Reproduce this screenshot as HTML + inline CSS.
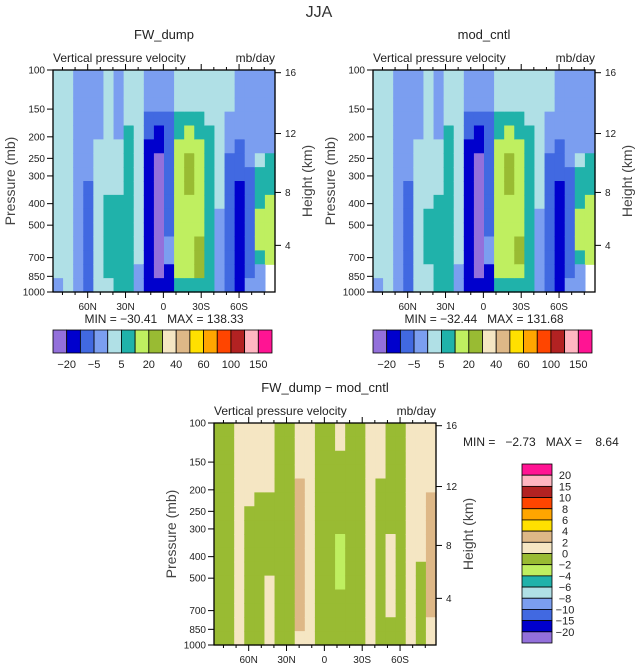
<!DOCTYPE html>
<html><head><meta charset="utf-8"><style>
html,body{margin:0;padding:0;background:#fff}
svg{display:block;font-family:"Liberation Sans",sans-serif}
</style></head><body>
<svg id="chart" width="638" height="664" viewBox="0 0 638 664" xmlns="http://www.w3.org/2000/svg">
<text x="319" y="17" text-anchor="middle" font-size="16" fill="#333">JJA</text>
</svg>
<script>
// ---- data (values in mb/day), columns from ~88N to ~88S (8 deg), rows top(100mb) to bottom(1000mb) ----
const topLevels = [-20,-10,-5,0,5,10,20,30,40,50,60,80,100,120,150];
const topLevelLabels = ["\u221220","","\u22125","","5","","20","","40","","60","","100","","150"];
const diffLevels = [-20,-15,-10,-8,-6,-4,-2,0,2,4,6,8,10,15,20];
const diffLevelLabels = ["\u221220","\u221215","\u221210","\u22128","\u22126","\u22124","\u22122","0","2","4","6","8","10","15","20"];
const latTicks = [60,30,0,-30,-60];
const latTickLabels = ["60N","30N","0","30S","60S"];
const pTicks = [100,150,200,250,300,400,500,700,850,1000];
const kmTicks = [16,12,8,4];
const fwDump = [
[2,2,2,2,2,2,2,2,2,2,2,2,2,2,2,-2],
[2,2,2,2,2,2,2,2,2,2,2,2,2,2,2,2],
[-2,-2,-2,-2,-2,-2,-2,-2,-2,-2,-2,-2,-2,-2,-2,-2],
[-2,-2,-2,-2,-2,-2,-2,-2,-7,-7,-7,-7,-7,-7,-7,-7],
[-2,-2,-2,-2,-2,2,2,2,2,2,2,2,2,2,2,2],
[2,2,2,2,2,2,2,2,2,7,7,7,7,7,7,2],
[-2,-2,-2,-2,-2,2,2,2,2,7,7,7,7,7,7,7],
[2,2,2,2,7,7,7,7,7,7,7,7,7,7,7,7],
[2,2,2,2,2,2,2,2,2,2,2,2,2,2,-2,-2],
[-2,-2,-2,-7,-7,-15,-15,-15,-15,-15,-15,-15,-15,-15,-15,-15],
[-2,-2,-2,-7,-15,-15,-25,-25,-25,-25,-25,-25,-25,-25,-25,-15],
[-2,-2,-2,-7,-7,-7,-7,-7,-7,-7,-7,-7,-2,-2,-15,-15],
[2,2,2,7,7,15,15,15,15,15,15,15,15,15,15,7],
[2,2,2,7,15,15,25,25,25,15,15,15,15,15,15,7],
[2,2,2,7,7,15,15,15,15,15,15,15,25,25,25,7],
[2,2,2,2,7,7,7,7,7,7,7,7,7,7,7,7],
[2,2,2,2,2,2,2,2,2,2,-2,-2,-2,-2,-2,-2],
[2,2,2,-2,-2,-2,-7,-7,-7,-7,-7,-7,-7,-7,-7,-7],
[-2,-2,-2,-2,-2,-7,-7,-7,-15,-15,-15,-15,-15,-15,-15,-15],
[-2,-2,-2,-2,-2,-2,-2,-7,-7,-7,-7,-7,-7,-7,-7,-2],
[-2,-2,-2,-2,-2,-2,2,7,7,7,15,15,15,7,-2,-2],
[-2,-2,-2,-2,-2,-2,7,7,7,15,15,15,15,15,null,null]
];
const modCntl = [
[2,2,2,2,2,2,2,2,2,2,2,2,2,2,2,-2],
[2,2,2,2,2,2,2,2,2,2,2,2,2,2,2,2],
[-2,-2,-2,-2,-2,-2,-2,-2,-2,-2,-2,-2,-2,-2,-2,-2],
[-2,-2,-2,-2,-2,-2,-2,-2,-7,-7,-7,-7,-7,-7,-7,-7],
[-2,-2,-2,-2,-2,2,2,2,2,2,2,2,2,2,2,2],
[2,2,2,2,2,2,2,2,2,2,7,7,7,7,2,2],
[-2,-2,-2,-2,-2,2,2,2,2,7,7,7,7,7,7,7],
[2,2,2,2,7,7,7,7,7,7,7,7,7,7,7,7],
[2,2,2,2,2,2,2,2,2,2,2,2,2,2,-2,-2],
[-2,-2,-2,-7,-7,-15,-15,-15,-15,-15,-15,-15,-15,-15,-15,-15],
[-2,-2,-2,-7,-15,-15,-25,-25,-25,-25,-25,-25,-25,-25,-25,-15],
[-2,-2,-2,-7,-7,-7,-7,-7,-7,-7,-7,-7,-2,-2,-15,-15],
[2,2,2,7,7,15,15,15,15,15,15,15,15,15,15,7],
[2,2,2,7,15,15,25,25,25,15,15,15,15,15,15,7],
[2,2,2,7,7,15,15,15,15,15,15,15,25,25,15,7],
[2,2,2,2,7,7,7,7,7,7,7,7,7,7,7,7],
[2,2,2,2,2,2,2,2,2,2,-2,-2,-2,-2,-2,-2],
[2,2,2,-2,-2,-2,-7,-7,-7,-7,-7,-7,-7,-7,-7,-7],
[-2,-2,-2,-2,-2,-7,-7,-7,-15,-15,-15,-15,-15,-15,-15,-15],
[-2,-2,-2,-2,-2,-2,-2,-7,-7,-7,-7,-7,-7,-7,-7,-2],
[-2,-2,-2,-2,-2,-2,2,7,7,7,15,15,15,7,-2,-2],
[-2,-2,-2,-2,-2,-2,7,7,7,15,15,15,15,15,null,null]
];
const diffField = [
[-1,-1,-1,-1,-1,-1,-1,-1,-1,-1,-1,-1,-1,-1,-1,-1],
[-1,-1,-1,-1,-1,-1,-1,-1,-1,-1,-1,-1,-1,-1,-1,-1],
[1,1,1,1,1,1,1,1,1,1,1,1,1,1,1,1],
[1,1,1,1,1,1,-1,-1,-1,-1,-1,-1,-1,-1,-1,-1],
[1,1,1,1,1,-1,-1,-1,-1,-1,-1,-1,-1,-1,-1,-1],
[1,1,1,1,1,-1,-1,-1,-1,-1,-1,1,1,1,1,1],
[-1,-1,-1,-1,-1,-1,-1,-1,-1,-1,-1,-1,-1,-1,-1,-1],
[-1,-1,-1,-1,-1,-1,-1,-1,-1,-1,-1,-1,-1,-1,-1,-1],
[1,1,1,1,3,3,3,3,3,3,3,3,3,3,3,1],
[1,1,1,1,1,1,1,1,1,1,1,1,1,1,1,1],
[-1,-1,-1,-1,-1,-1,-1,-1,-1,-1,-1,-1,-1,-1,-1,-1],
[-1,-1,-1,-1,-1,-1,-1,-1,-1,-1,-1,-1,-1,-1,-1,-1],
[1,1,-1,-1,-1,-1,-1,-1,-3,-3,-3,-3,-1,-1,-1,-1],
[-1,-1,-1,-1,-1,-1,-1,-1,-1,-1,-1,-1,-1,-1,-1,-1],
[-1,-1,-1,-1,-1,-1,-1,-1,-1,-1,-1,-1,-1,-1,-1,-1],
[1,1,1,1,1,1,1,1,1,1,1,1,1,1,1,1],
[1,1,1,1,-1,-1,-1,-1,-1,-1,-1,-1,-1,-1,-1,-1],
[-1,-1,-1,-1,-1,-1,-1,-1,1,1,1,1,1,1,-1,-1],
[-1,-1,-1,-1,-1,-1,-1,-1,-1,-1,-1,-1,-1,-1,-1,-1],
[1,1,1,1,1,1,1,1,1,1,1,1,1,1,1,1],
[1,1,1,1,1,1,1,1,1,1,-1,-1,-1,-1,-1,-1],
[1,1,1,1,1,3,3,3,3,3,3,3,3,3,1,1]
];
const palette = ['#9370DB','#0000CD','#4169E1','#7B9EF0','#B0E0E6','#20B2AA','#BFEF60','#99BB33','#F5E6C3','#DEB887','#FFE000','#FFA500','#FF4500','#B22222','#FFB6C1','#FF1493'];

const NS = "http://www.w3.org/2000/svg";
const svg = document.getElementById('chart');
function mk(tag, attrs, parent){
  const e = document.createElementNS(NS, tag);
  for (const k in attrs) e.setAttribute(k, attrs[k]);
  (parent||svg).appendChild(e);
  return e;
}
function classify(v, levels){ let i=0; for (const l of levels) if (v>=l) i++; return i; }
function kmToP(z){ return z<=11 ? 1013.25*Math.pow(1-z/44.33,5.255) : 226.3*Math.exp(-(z-11)/6.34); }

const LAT0 = 87.5, LAT1 = -88.5, W = 222, H = 222;

function drawPanel(px, py, field, levels, title, name){
  const g = mk('g', {});
  
  
  const xOf = lat => px + (LAT0 - lat) * W / (LAT0 - LAT1);
  const yOf = p => py + H * Math.log10(p / 100);
  const nCol = field.length, nRow = field[0].length;
  const dLat = (LAT0 - LAT1) / nCol;
  for (let i=0;i<nCol;i++){
    for (let j=0;j<nRow;j++){
      const v = field[i][j];
      if (v === null) continue;
      const x0 = xOf(LAT0 - i*dLat), x1 = xOf(LAT0 - (i+1)*dLat);
      const p0 = 100*Math.pow(10, j/nRow), p1 = 100*Math.pow(10, (j+1)/nRow);
      const y0 = yOf(p0), y1 = yOf(p1);
      const r = mk('rect', {x:x0, y:y0, width:(x1-x0)+0.6, height:(y1-y0)+0.6, fill: palette[classify(v, levels)]}, g);
      
      
    }
  }
  const frame = mk('rect', {x:px, y:py, width:W, height:H, fill:'none', stroke:'#000', 'stroke-width':1.3}, g);
  
  
  // lat ticks
  for (let lat=80; lat>=-80; lat-=10){
    const x = xOf(lat), major = lat%30===0;
    const L = major ? 6 : 3;
    mk('line', {x1:x, x2:x, y1:py, y2:py-L, stroke:'#000', 'stroke-width':1}, g);
    mk('line', {x1:x, x2:x, y1:py+H, y2:py+H+L, stroke:'#000', 'stroke-width':1}, g);
  }
  latTicks.forEach((lat, k) => {
    const t = mk('text', {x:xOf(lat), y:py+H+18, 'text-anchor':'middle', 'font-size':10, fill:'#222'}, g);
    t.textContent = latTickLabels[k];
    
    
  });
  pTicks.forEach(p => {
    const y = yOf(p);
    mk('line', {x1:px, x2:px-6, y1:y, y2:y, stroke:'#000', 'stroke-width':1}, g);
    const t = mk('text', {x:px-8, y:y+3.5, 'text-anchor':'end', 'font-size':10, fill:'#222'}, g);
    t.textContent = p;
    
    
  });
  kmTicks.forEach(z => {
    const y = yOf(kmToP(z));
    mk('line', {x1:px+W, x2:px+W+6, y1:y, y2:y, stroke:'#000', 'stroke-width':1}, g);
    const t = mk('text', {x:px+W+10, y:y+3.5, 'font-size':10, fill:'#222'}, g);
    t.textContent = z;
    
    
  });
  const yt = mk('text', {x:0, y:0, transform:`translate(${px-38},${py+H/2}) rotate(-90)`, 'text-anchor':'middle', 'font-size':14, fill:'#444'}, g);
  yt.textContent = 'Pressure (mb)';
  
  
  const rt = mk('text', {x:0, y:0, transform:`translate(${px+W+37},${py+H/2}) rotate(-90)`, 'text-anchor':'middle', 'font-size':14, fill:'#444'}, g);
  rt.textContent = 'Height (km)';
  
  
  const tt = mk('text', {x:px+W/2, y:py-31, 'text-anchor':'middle', 'font-size':13, fill:'#222'}, g);
  tt.textContent = title;
  
  
  const st = mk('text', {x:px, y:py-8, 'font-size':12, fill:'#222'}, g);
  st.textContent = 'Vertical pressure velocity';
  
  
  const ut = mk('text', {x:px+W, y:py-8, 'text-anchor':'end', 'font-size':12, fill:'#222'}, g);
  ut.textContent = 'mb/day';
  
  
  return g;
}

function hColorbar(x, y, name){
  const g = mk('g', {});
  
  
  const bw = 219/palette.length;
  palette.forEach((c,i) => {
    const r = mk('rect', {x:x+i*bw, y:y, width:bw, height:23, fill:c, stroke:'#000', 'stroke-width':0.8}, g);
    
    
  });
  topLevelLabels.forEach((s,i) => {
    if (!s) return;
    const t = mk('text', {x:x+(i+1)*bw, y:y+38, 'text-anchor':'middle', 'font-size':11, fill:'#222'}, g);
    t.textContent = s;
    
    
  });
}
function statText(x, y, txt, anchor){
  const t = mk('text', {x:x, y:y, 'text-anchor':anchor, 'font-size':12, fill:'#222', 'xml:space':'preserve'});
  t.setAttribute('style','white-space:pre');
  t.textContent = txt;
  
  
}

drawPanel(53, 70, fwDump, topLevels, 'FW_dump', 'panel-fw-dump');
drawPanel(373, 70, modCntl, topLevels, 'mod_cntl', 'panel-mod-cntl');
drawPanel(214, 423, diffField, diffLevels, 'FW_dump \u2212 mod_cntl', 'panel-difference');
statText(164, 323, 'MIN = \u221230.41   MAX = 138.33', 'middle');
statText(484, 323, 'MIN = \u221232.44   MAX = 131.68', 'middle');
statText(463, 446, 'MIN =   \u22122.73   MAX =    8.64', 'start');
hColorbar(53, 330, 'colorbar-fw-dump');
hColorbar(373, 330, 'colorbar-mod-cntl');

// vertical colorbar for difference
(function(){
  const g = mk('g', {});
  
  
  const bh = 179/palette.length;
  for (let k=0;k<palette.length;k++){
    const c = palette[palette.length-1-k];
    const r = mk('rect', {x:522, y:464+k*bh, width:30, height:bh, fill:c, stroke:'#000', 'stroke-width':0.8}, g);
    
    
  }
  for (let k=0;k<diffLevelLabels.length;k++){
    const s = diffLevelLabels[diffLevelLabels.length-1-k];
    const t = mk('text', {x:565, y:464+(k+1)*bh+4, 'text-anchor':'middle', 'font-size':11, fill:'#222'}, g);
    t.textContent = s;
    
    
  }
})();
</script>
</body></html>
